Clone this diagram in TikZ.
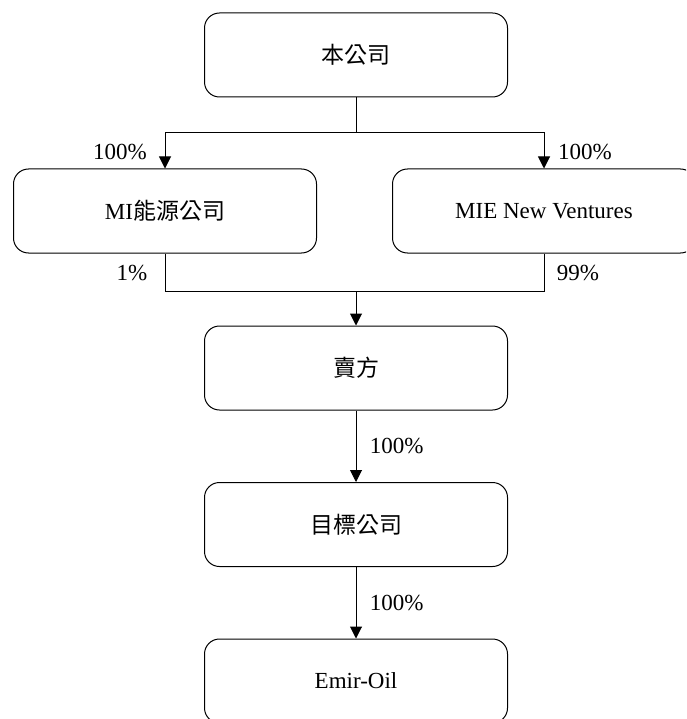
\documentclass[tikz,border=0pt]{standalone}
\usepackage{fontspec}
\setmainfont{Liberation Serif}
\newfontfamily\cjk{Noto Sans CJK TC}
\usetikzlibrary{arrows.meta, positioning}

\begin{document}
\begin{tikzpicture}[x=1pt, y=-1pt,
    entity/.style={draw, rounded corners=15pt, line width=1pt,
        minimum width=303pt, minimum height=84pt, inner sep=0pt,
        font=\fontsize{23}{27}\selectfont},
    link/.style={line width=1pt},
    own/.style={link, -{Triangle[length=12pt, width=12pt]}},
    pct/.style={font=\fontsize{23}{27}\selectfont}]
    \useasboundingbox (0, 0) rectangle (686, 719);
    \clip (0, 0) rectangle (686, 719);
    \node[entity] (co) at (356, 55) {\cjk 本公司};
    \node[entity] (mi) at (165, 211) {MI{\cjk 能源公司}};
    \node[entity] (mie) at (544, 211) {MIE New Ventures};
    \node[entity] (seller) at (356, 368) {\cjk 賣方};
    \node[entity] (target) at (356, 524.5) {\cjk 目標公司};
    \node[entity] (emir) at (356, 681) {Emir-Oil};
    \coordinate (split) at (356, 133);
    \coordinate (join) at (356, 291);
    \draw[link] (co) -- (split);
    \draw[own] (split) -| (mi);
    \draw[own] (split) -| (mie);
    \draw[link] (mi) |- (join);
    \draw[link] (mie) |- (join);
    \draw[own] (join) -- (seller);
    \draw[own] (seller) -- (target) node[pct, midway, right=10pt] {100\%};
    \draw[own] (target) -- (emir) node[pct, midway, right=10pt] {100\%};
    \node[pct] (mi pct) at (120, 152) {100\%};
    \node[pct] (mie pct) at (585, 152) {100\%};
    \node[pct] (mi out) at (132, 273) {1\%};
    \node[pct] (mie out) at (578, 273) {99\%};
\end{tikzpicture}
\end{document}
